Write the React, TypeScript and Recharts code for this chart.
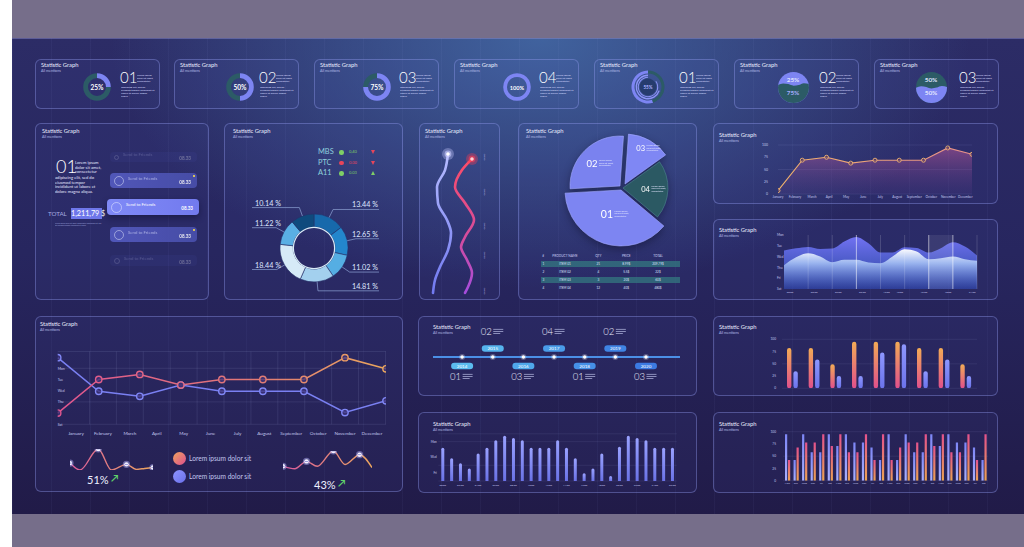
import React from 'react'
import {
  PieChart, Pie, Cell, AreaChart, Area, LineChart, Line, BarChart, Bar,
  XAxis, YAxis, CartesianGrid, ReferenceLine, ReferenceArea,
} from 'recharts'

const FONT = 'Lato, "Open Sans", "DejaVu Sans", sans-serif'
const PERI = '#7d85f3'
const TEAL = '#2c5b66'
const INK = '#eceeff'
const DIM = '#b9bde6'
const AXIS = '#c4c8ee'
const RAD = Math.PI / 180
const LOREM = 'Lorem ipsum dolor sit amet, consectetur adipiscing elit, sed do eiusmod tempor incididunt ut labore et dolore magna aliqua.'

// ---------- top cards ----------
const cardNumbers = ['01', '02', '03', '04', '01', '02', '03']
const cardShares = [25, 50, 75, 100]
const ringShares = [55, 70, 85]
const discWave6 = [58, 63, 61, 56, 58, 64, 61]
const discWave7 = [49, 54, 52, 47, 50, 55, 52]

// ---------- panel A ----------
const sendLabels = ['Send to Friends', 'Send to Friends', 'Send to Friends', 'Send to Friends', 'Send to Friends']
const sendAmounts = ['08.33', '08.33', '08.33', '08.33', '08.33']
const totalAmount = '1,211,79 $'

// ---------- panel B ----------
const tickers = ['MBS', 'PTC', 'A11']
const tickerValues = ['0,40', '0.00', '0.03']
const tickerUp = [false, false, true]
const donutLabels = ['13.44 %', '12.65 %', '11.02 %', '14.81 %', '18.44 %', '11.22 %', '10.14 %']
const donutValues = [13.44, 12.65, 11.02, 14.81, 18.44, 11.22, 10.14]
const donutColors = ['#1769ab', '#2386cc', '#55aee3', '#a3d0ee', '#d6eaf7', '#5aafe4', '#0f4a7d']

// ---------- panel C ----------
const blueY = [17.5, 26.6, 36.2, 45.2, 54.8, 62.1, 71.8, 81.4, 88.7, 96.0]
const blueX = [42.0, 37.7, 26.1, 27.5, 40.6, 46.4, 42.0, 30.4, 23.2, 20.3]
const redY = [20.3, 26.6, 36.2, 45.2, 54.8, 64.4, 70.1, 77.4, 84.7, 92.7, 96.0]
const redX = [76.8, 62.3, 52.2, 66.7, 79.7, 66.7, 60.9, 69.6, 76.8, 71.0, 66.7]
const curveTicks = [19.2, 28.2, 39.0, 48.0, 58.2, 64.4, 74.6, 84.7, 95.5]

// ---------- panel D ----------
const pieIds = ['03', '04', '01', '02']
const pieValues = [14, 21, 38, 27]
const tableHead = ['#', 'PRODUCT NAME', 'QTY', 'PRICE', 'TOTAL']
const tableRows = [
  ['1', 'ITEM 01', '21', '8.99$', '209.79$'],
  ['2', 'ITEM 02', '4', '5.5$', '22$'],
  ['3', 'ITEM 03', '3', '20$', '60$'],
  ['4', 'ITEM 04', '12', '40$', '480$'],
]

// ---------- panel E ----------
const months = ['January', 'February', 'March', 'April', 'May', 'June', 'July', 'August', 'September', 'October', 'November', 'December']
const monthTicks = [0, 1, 2, 3, 4, 5, 6, 7, 8, 9, 10, 11]
const trendValues = [7, 69, 75, 63, 69, 69, 69, 94, 81]

// ---------- panel F ----------
const weekDays = ['Sat', 'Fri', 'Thu', 'Wed', 'Tue', 'Mon']
const waveBack = [3.56, 3.77, 3.9, 3.71, 3.74, 4.39, 4.82, 4.23, 3.37, 3.37, 3.86, 3.8, 3.37, 3.77, 4.32, 3.93, 3.1]
const waveFront = [2.21, 2.94, 3.31, 3.01, 2.48, 2.7, 2.7, 2.45, 2.39, 3.01, 3.68, 3.47, 2.76, 2.85, 3.01, 2.76, 2.61]
const waveMarks = [2, 4, 6, 8, 10, 12, 14, 16]
const waveBright = [6, 12, 14]
const waveTimeTicks = [0.5, 2.5, 4.5, 6.5, 8.5, 9.6, 11.6, 13.6, 15.6]
const waveTimes = ['00:00', '03:00', '06:00', '09:00', '12:00', '13:00', '15:00', '18:00', '21:00']

// ---------- panel G ----------
const lineRose = [1, 4, 4.45, 3.5, 4, 4, 4, 5.95, 4.95]
const lineBlue = [5.95, 2.95, 2.5, 3.5, 2.95, 2.95, 2.95, 1.05, 2.1]
const gDayTicks = [0, 2, 3, 4, 5]
const gGridMarks = [0.5, 1.5, 2.5, 3.5, 4.5, 5.5, 6.5, 7.5, 8.5, 9.5, 10.5, 11.5]
const spark1T = [0, 30, 85, 125, 170, 200, 225, 250]
const spark1V = [22, 0, 67, 0, 18, 2, 5, 8]
const spark1Dots = [0, 2, 4, 7]
const spark2T = [0, 35, 70, 102, 150, 185, 228, 265]
const spark2V = [12, 4, 28, 12, 62, 18, 50, 8]
const spark2Dots = [0, 2, 4, 6]
const legendText = ['Lorem ipsum dolor sit', 'Lorem ipsum dolor sit']

// ---------- panel H ----------
const years = [2014, 2015, 2016, 2017, 2018, 2019, 2020]
const yearNumbers = ['01', '02', '03', '04', '01', '02', '03']
const yearColors = ['#5bbcef', '#56b4ee', '#4fa8eb', '#4a9ce9', '#4590e7', '#3f84e4', '#3b7ae2']

// ---------- panel I ----------
const slotLabels = ['00:00', '01:00', '02:00', '03:00', '04:00', '05:00', '06:00', '07:00', '08:00', '09:00', '10:00', '11:00', '12:00', '13:00',
  '14:00', '15:00', '16:00', '17:00', '18:00', '19:00', '20:00', '21:00', '22:00', '23:00', '24:00', '01:00', '02:00']
const slotValues = [4.24, 2.88, 2.25, 1.6, 3.5, 4.24, 5.17, 5.76, 5.47, 5.17, 4.24, 4.24, 4.24, 5.17,
  4.24, 2.88, 0.97, 1.6, 3.5, 0.64, 4.36, 5.76, 5.47, 5.17, 4.24, 4.24, 4.24]

// ---------- panel J ----------
const pairOrange = [82, 82, 49, 95, 95, 95, 82, 82, 49]
const pairBlue = [35, 59, 25, 25, 73, 90, 35, 59, 25]
const pctTicks = [0, 25, 50, 75, 100]

// ---------- panel K ----------
const dayLabels = ['Mon', 'Tue', 'Wed', 'Thu', 'Fri', 'Sat', 'Mon', 'Tue', 'Wed', 'Thu', 'Fri', 'Sat',
  'Mon', 'Tue', 'Wed', 'Thu', 'Fri', 'Sat', 'Mon', 'Tue', 'Wed', 'Thu', 'Fri', 'Sat']
const dayBlue = [95, 42, 95, 58, 58, 95, 71, 95, 78, 78, 68, 42, 95, 42, 95, 58, 58, 95, 71, 95, 78, 78, 68, 42]
const dayRose = [42, 68, 78, 78, 95, 71, 95, 58, 58, 95, 42, 95, 42, 68, 78, 78, 95, 71, 95, 58, 58, 95, 42, 95]

const tickStyle = (size: number) => ({ fill: AXIS, fontSize: size, fontFamily: FONT })

function Panel({ x, y, w, h, tx = 6, ty = 6, children }: any) {
  return (
    <div style={{
      position: 'absolute', left: x, top: y, width: w, height: h, boxSizing: 'border-box',
      border: '1px solid rgba(150,160,245,0.38)', borderRadius: 6, background: 'rgba(90,105,210,0.08)',
    }}>
      <div style={{ position: 'absolute', left: -1, top: -1, width: w, height: h }}>
        {children}
        <div style={{ position: 'absolute', left: tx, top: ty - 1, fontSize: 5.8, color: INK, lineHeight: 1, whiteSpace: 'nowrap' }}>Statistic Graph</div>
        <div style={{ position: 'absolute', left: tx, top: ty + 6, fontSize: 3.6, color: DIM, lineHeight: 1, whiteSpace: 'nowrap' }}>All mentions</div>
      </div>
    </div>
  )
}

function Tiny({ left, top, width, height, text, size = 2.6, line = 3.1, color = '#d8dcff' }: any) {
  return (
    <div style={{ position: 'absolute', left, top, width, height, fontSize: size, lineHeight: `${line}px`, color, overflow: 'hidden' }}>{text}</div>
  )
}

function CardText({ index }: { index: number }) {
  return (
    <>
      <div style={{ position: 'absolute', left: 85, top: 11, fontSize: 15, fontWeight: 300, color: '#fff', lineHeight: 1 }}>{cardNumbers[index]}</div>
      <Tiny left={102} top={14.5} width={19} height={9.3} text="Lorem ipsum dolor sit amet, consectetur" />
      <Tiny left={86} top={26.5} width={34} height={15.5} text={LOREM.slice(40)} />
    </>
  )
}

function CenterLabel({ text, size = 7, color = '#fff' }: any) {
  return (
    <div style={{ position: 'absolute', left: 0, top: 0, width: '100%', height: '100%', display: 'flex', alignItems: 'center', justifyContent: 'center', fontSize: size, fontWeight: 700, color }}>{text}</div>
  )
}

function RingCard({ x, index, cx }: any) {
  const share = cardShares[index]
  const data = [{ v: share }, { v: 100 - share }]
  return (
    <Panel x={x} y={59} w={125} h={50} ty={4}>
      <div style={{ position: 'absolute', left: cx - 16, top: 12, width: 32, height: 32 }}>
        <PieChart width={32} height={32} margin={{ top: 0, right: 0, bottom: 0, left: 0 }}>
          <Pie data={data} dataKey="v" cx={16} cy={16} innerRadius={share === 100 ? 10 : 9} outerRadius={13.8} startAngle={90} endAngle={-270} stroke="none" isAnimationActive={false}>
            <Cell fill={PERI} />
            <Cell fill={TEAL} />
          </Pie>
        </PieChart>
        <CenterLabel text={`${share}%`} size={share === 100 ? 5.6 : 6.6} />
      </div>
      <CardText index={index} />
    </Panel>
  )
}

function MultiRingCard({ x }: any) {
  const radii = [[13.5, 16.5], [11, 12.4], [9.2, 10.2]]
  return (
    <Panel x={x} y={59} w={125} h={50} ty={4}>
      <div style={{ position: 'absolute', left: 54 - 18, top: 10, width: 36, height: 36 }}>
        <PieChart width={36} height={36} margin={{ top: 0, right: 0, bottom: 0, left: 0 }}>
          {ringShares.map((s, i) => (
            <Pie key={i} data={[{ v: s }, { v: 100 - s }]} dataKey="v" cx={18} cy={18} innerRadius={radii[i][0]} outerRadius={radii[i][1]} startAngle={90} endAngle={450} stroke="none" isAnimationActive={false}>
              <Cell fill={i === 0 ? PERI : '#8c93f6'} />
              <Cell fill={i === 0 ? TEAL : 'rgba(0,0,0,0)'} />
            </Pie>
          ))}
          <Pie data={[{ v: 1 }]} dataKey="v" cx={18} cy={18} innerRadius={0} outerRadius={8.4} fill="#263c6e" stroke="none" isAnimationActive={false} />
        </PieChart>
        <CenterLabel text="55%" size={4.6} color="#a9b0ff" />
      </div>
      <CardText index={4} />
    </Panel>
  )
}

function DiscCard({ x, index, cx, wave, topColor, bottomColor, topText, bottomText }: any) {
  const data = wave.map((v: number, i: number) => ({ i, v }))
  return (
    <Panel x={x} y={59} w={125} h={50} ty={4}>
      <div style={{ position: 'absolute', left: cx - 15.5, top: 12.5, width: 31, height: 31, borderRadius: '50%', overflow: 'hidden', background: topColor }}>
        <AreaChart width={31} height={31} data={data} margin={{ top: 0, right: 0, bottom: 0, left: 0 }}>
          <XAxis dataKey="i" type="number" domain={[0, wave.length - 1]} hide />
          <YAxis domain={[0, 100]} allowDataOverflow hide />
          <Area dataKey="v" type="monotone" stroke="none" fill={bottomColor} fillOpacity={1} isAnimationActive={false} />
        </AreaChart>
        <div style={{ position: 'absolute', left: 0, top: 5, width: '100%', textAlign: 'center', fontSize: 6.4, fontWeight: 700, color: '#dfe3ff', lineHeight: 1 }}>{topText.t}</div>
        <div style={{ position: 'absolute', left: 0, top: 18, width: '100%', textAlign: 'center', fontSize: 6.4, fontWeight: 700, color: bottomText.c, lineHeight: 1 }}>{bottomText.t}</div>
      </div>
      <CardText index={index} />
    </Panel>
  )
}

function SendPanel() {
  const pills = [
    { top: 29, h: 10, left: 75, w: 87, bg: 'rgba(85,92,200,0.28)', a: 0.3 },
    { top: 50, h: 15, left: 75, w: 87, bg: 'linear-gradient(90deg,#555cc2,#4a50ad)', a: 0.9 },
    { top: 76, h: 16, left: 72, w: 92, bg: 'linear-gradient(90deg,#808af7,#727aee)', a: 1 },
    { top: 104, h: 15, left: 75, w: 87, bg: 'linear-gradient(90deg,#555cc2,#4a50ad)', a: 0.9 },
    { top: 132, h: 11, left: 75, w: 87, bg: 'rgba(85,92,200,0.28)', a: 0.3 },
  ]
  return (
    <Panel x={35} y={123} w={174} h={177} tx={7} ty={6}>
      <div style={{ position: 'absolute', left: 21, top: 36, fontSize: 18, fontWeight: 300, color: '#fff', lineHeight: '15px', height: 15 }}>01</div>
      <Tiny left={40} top={38} width={28} height={14} size={4.2} line={4.6} color="#e4e7ff" text="Lorem ipsum dolor sit amet, consectetur" />
      <Tiny left={20} top={53} width={49} height={19} size={4.2} line={4.6} color="#e4e7ff" text="adipiscing elit, sed do eiusmod tempor incididunt ut labore et dolore magna aliqua." />
      <div style={{ position: 'absolute', left: 13, top: 87.5, fontSize: 6.2, color: '#a7aee0', lineHeight: 1 }}>TOTAL</div>
      <div style={{ position: 'absolute', left: 36, top: 85, width: 31, height: 11, background: '#6e77ea', color: '#fff', fontSize: 7.2, lineHeight: '11px', textAlign: 'center', whiteSpace: 'nowrap' }}>{totalAmount}</div>
      <Tiny left={20} top={99} width={48} size={1.8} line={2.1} color="#9aa0d8" text="Lorem ipsum dolor sit amet, consectetur adipiscing elit, sed do eiusmod tempor incididunt ut labore" />
      {pills.map((p, i) => (
        <div key={i} style={{
          position: 'absolute', left: p.left, top: p.top, width: p.w, height: p.h, borderRadius: 4, background: p.bg, opacity: p.a,
          boxShadow: i === 2 ? '0 3px 6px rgba(10,10,40,0.45)' : 'none',
        }}>
          <div style={{ position: 'absolute', left: 4, top: 2.5, width: p.h - 5, height: p.h - 5, borderRadius: '50%', border: '0.8px solid rgba(220,225,255,0.6)', boxSizing: 'border-box' }} />
          <div style={{ position: 'absolute', left: p.h + 3, top: p.h / 2 - 4, fontSize: 4.3, color: i === 2 ? '#fff' : '#b8bdf0', lineHeight: 1 }}>{sendLabels[i]}</div>
          <div style={{ position: 'absolute', right: 6, top: p.h / 2 - 1, fontSize: 4.6, fontWeight: 700, color: '#fff', lineHeight: 1 }}>{sendAmounts[i]}</div>
          {(i === 1 || i === 3) && <div style={{ position: 'absolute', right: 2.5, top: 2, width: 2, height: 2, background: '#e6cf5a' }} />}
        </div>
      ))}
    </Panel>
  )
}

function donutLabel(p: any) {
  const { cx, cy, midAngle, outerRadius, index } = p
  const c = Math.cos(-midAngle * RAD)
  const s = Math.sin(-midAngle * RAD)
  const sx = cx + outerRadius * c
  const sy = cy + outerRadius * s
  const ex = cx + (outerRadius + 9) * c
  const ey = cy + (outerRadius + 9) * s
  const right = c >= 0
  const lx = right ? cx + 65 : cx - 62
  return (
    <g key={`dl${index}`}>
      <polyline points={`${sx},${sy} ${ex},${ey} ${lx},${ey}`} fill="none" stroke="#8ea3d6" strokeWidth={0.7} />
      <text x={right ? cx + 64 : cx - 59} y={ey - 2} textAnchor={right ? 'end' : 'start'} fill="#dfe6ff" fontSize={7.2} fontFamily={FONT}>{donutLabels[index]}</text>
    </g>
  )
}

function DonutPanel() {
  const data = donutValues.map((v, i) => ({ name: donutLabels[i], v }))
  return (
    <Panel x={224} y={123} w={179} h={177} tx={9} ty={6}>
      {tickers.map((t, i) => (
        <div key={t} style={{ position: 'absolute', left: 94, top: 25 + i * 10.5, height: 8, width: 70 }}>
          <div style={{ position: 'absolute', left: 0, top: 0, fontSize: 7.4, color: '#8fd0dc', lineHeight: 1 }}>{t}</div>
          <div style={{ position: 'absolute', left: 21, top: 2, width: 4.6, height: 4.6, borderRadius: '50%', background: i === 1 ? '#e8455a' : '#7fcf66' }} />
          <div style={{ position: 'absolute', left: 31, top: 2.4, fontSize: 4, color: i === 1 ? '#e8455a' : '#7fcf66', lineHeight: 1 }}>{tickerValues[i]}</div>
          <div style={{
            position: 'absolute', left: 53, top: 2, width: 0, height: 0,
            borderLeft: '2.6px solid transparent', borderRight: '2.6px solid transparent',
            ...(tickerUp[i] ? { borderBottom: '4.4px solid #7fcf66' } : { borderTop: '4.4px solid #e8455a' }),
          }} />
        </div>
      ))}
      <div style={{ position: 'absolute', left: 0, top: 0 }}>
        <PieChart width={179} height={177} margin={{ top: 0, right: 0, bottom: 0, left: 0 }}>
          <Pie data={data} dataKey="v" cx={90} cy={125} innerRadius={21} outerRadius={34} startAngle={90} endAngle={-270}
            stroke="#27306a" strokeWidth={0.6} label={donutLabel} labelLine={false} isAnimationActive={false}>
            {data.map((_, i) => <Cell key={i} fill={donutColors[i]} />)}
          </Pie>
          <Pie data={[{ v: 1 }]} dataKey="v" cx={90} cy={125} innerRadius={20} outerRadius={21.2} fill="#d9ecf8" stroke="none" isAnimationActive={false} />
        </PieChart>
      </div>
    </Panel>
  )
}

function glowDot(color: string, glow: string) {
  return (p: any) => {
    if (p.index !== 0) return <g key={`d${p.index}`} />
    return (
      <g key={`d${p.index}`}>
        <circle cx={p.cx} cy={p.cy} r={6} fill={glow} opacity={0.35} />
        <circle cx={p.cx} cy={p.cy} r={3.4} fill={glow} opacity={0.6} />
        <circle cx={p.cx} cy={p.cy} r={1.8} fill={color} />
      </g>
    )
  }
}

function CurvePanel() {
  const blue = blueY.map((y, i) => ({ y, x: blueX[i] }))
  const red = redY.map((y, i) => ({ y, x: redX[i] }))
  return (
    <Panel x={419} y={123} w={81} h={177} tx={6} ty={6}>
      <div style={{ position: 'absolute', left: 0, top: 0 }}>
        <LineChart layout="vertical" width={81} height={177} margin={{ top: 0, right: 0, bottom: 0, left: 0 }}>
          <defs>
            <linearGradient id="redCurve" x1="0" y1="30" x2="0" y2="172" gradientUnits="userSpaceOnUse">
              <stop offset="0" stopColor="#ff4d64" />
              <stop offset="0.6" stopColor="#d44c9e" />
              <stop offset="1" stopColor="#a44de0" />
            </linearGradient>
            <linearGradient id="blueCurve" x1="0" y1="30" x2="0" y2="172" gradientUnits="userSpaceOnUse">
              <stop offset="0" stopColor="#b6bcff" />
              <stop offset="1" stopColor="#7078f0" />
            </linearGradient>
          </defs>
          <XAxis type="number" dataKey="x" domain={[0, 100]} allowDataOverflow hide />
          <YAxis type="number" dataKey="y" domain={[0, 100]} allowDataOverflow hide />
          <YAxis yAxisId="r" type="number" dataKey="y" orientation="right" width={12} domain={[0, 100]} allowDataOverflow
            ticks={curveTicks} axisLine={false} tickLine={false} tickSize={0} tickMargin={0}
            tick={(p: any) => (
              <text key={`t${p.index}`} x={p.x - 3} y={p.y} transform={`rotate(-90 ${p.x - 3} ${p.y})`} textAnchor="middle" fontSize={2.6} fill={AXIS} fontFamily={FONT}>00:00</text>
            )} />
          <Line data={blue} dataKey="x" type="monotone" stroke="url(#blueCurve)" strokeWidth={2.6} strokeLinecap="round" dot={glowDot('#ffffff', '#c9ccff')} activeDot={false} isAnimationActive={false} />
          <Line data={red} dataKey="x" type="monotone" stroke="url(#redCurve)" strokeWidth={2.6} strokeLinecap="round" dot={glowDot('#ffd0d6', '#ff3b52')} activeDot={false} isAnimationActive={false} />
        </LineChart>
      </div>
    </Panel>
  )
}

const pieStyle: Record<string, any> = {
  '01': { dx: -1, dy: 3, r: 56, fill: '#7d85f2', edge: '#a3a9ff', lr: 0.45, fs: 10.5 },
  '02': { dx: -2, dy: -1, r: 50, fill: '#7a82ef', edge: '#a3a9ff', lr: 0.64, fs: 9.5 },
  '03': { dx: 3, dy: -3, r: 50, fill: '#7f87f4', edge: '#a3a9ff', lr: 0.82, fs: 7.5 },
  '04': { dx: 1, dy: 1, r: 45, fill: '#2b5963', edge: '#4d8790', lr: 0.6, fs: 7.5 },
}

function PiePanel() {
  const total = pieValues.reduce((a, b) => a + b, 0)
  let acc = 0
  const slices = pieIds.map((id, i) => {
    const start = 86 - (acc / total) * 360
    acc += pieValues[i]
    const end = 86 - (acc / total) * 360
    return { id, value: pieValues[i], start, end }
  })
  const colX = [25.3, 47, 80.3, 108.3, 140]
  return (
    <Panel x={518} y={123} w={179} h={177} tx={8} ty={6}>
      <div style={{ position: 'absolute', left: 0, top: 0, filter: 'drop-shadow(0px 3px 4px rgba(10,10,40,0.45))' }}>
        <PieChart width={179} height={135} margin={{ top: 0, right: 0, bottom: 0, left: 0 }}>
          {slices.map((s) => {
            const st = pieStyle[s.id]
            return (
              <Pie key={s.id} data={[s]} dataKey="value" cx={104 + st.dx} cy={64 + st.dy} startAngle={s.start} endAngle={s.end}
                innerRadius={0} outerRadius={st.r} fill={st.fill} stroke={st.edge} strokeWidth={0.6} labelLine={false} isAnimationActive={false}
                label={(p: any) => {
                  const lx = p.cx + p.outerRadius * st.lr * Math.cos(-p.midAngle * RAD)
                  const ly = p.cy + p.outerRadius * st.lr * Math.sin(-p.midAngle * RAD)
                  return (
                    <g key={`pl${s.id}`}>
                      <text x={lx} y={ly + st.fs * 0.36} textAnchor="end" fill="#fff" fontSize={st.fs} fontFamily={FONT}>{s.id}</text>
                      {[0, 1, 2].map((k) => (
                        <text key={k} x={lx + 1.5} y={ly - 2.4 + k * 2.8} fontSize={2.3} fill="#e2e5ff" fontFamily={FONT}>{k === 0 ? 'Lorem ipsum' : k === 1 ? 'dolor sit amet,' : 'consectetur'}</text>
                      ))}
                    </g>
                  )
                }} />
            )
          })}
        </PieChart>
      </div>
      {[0, 2].map((r) => (
        <div key={r} style={{ position: 'absolute', left: 23, top: 141 + r * 8 - 3.3, width: 139, height: 6.7, background: 'rgba(52,120,128,0.75)' }} />
      ))}
      {tableHead.map((h, c) => (
        <div key={h} style={{ position: 'absolute', left: colX[c] - 20, top: 132, width: 40, textAlign: 'center', fontSize: 3.2, color: '#c9cdf2', lineHeight: 1 }}>{h}</div>
      ))}
      {tableRows.map((row, r) => row.map((cell, c) => (
        <div key={`${r}-${c}`} style={{ position: 'absolute', left: colX[c] - 20, top: 139.5 + r * 8, width: 40, textAlign: 'center', fontSize: 3.1, color: '#dfe2ff', lineHeight: 1 }}>{cell}</div>
      )))}
    </Panel>
  )
}

function TrendPanel() {
  const data = trendValues.map((v, i) => ({ i, v }))
  return (
    <Panel x={713} y={123} w={285} h={81} tx={6} ty={10}>
      <div style={{ position: 'absolute', left: 0, top: 0 }}>
        <AreaChart width={285} height={81} data={data} margin={{ top: 22, right: 26, bottom: 2, left: 49 }}>
          <defs>
            <linearGradient id="trendFill" x1="0" y1="0" x2="0" y2="1">
              <stop offset="0" stopColor="#c45b9c" stopOpacity={0.85} />
              <stop offset="1" stopColor="#5a3c8c" stopOpacity={0.25} />
            </linearGradient>
            <linearGradient id="trendLine" x1="65" y1="0" x2="260" y2="0" gradientUnits="userSpaceOnUse">
              <stop offset="0" stopColor="#f0b26a" />
              <stop offset="1" stopColor="#e8908a" />
            </linearGradient>
          </defs>
          <CartesianGrid vertical={false} stroke="rgba(200,205,255,0.16)" strokeWidth={0.6} />
          <XAxis dataKey="i" type="number" domain={[0, 11.39]} allowDataOverflow ticks={monthTicks} interval={0}
            tickFormatter={(v: number) => months[v]} tick={tickStyle(3.2)} axisLine={false} tickLine={false} tickSize={0} tickMargin={1.5} height={8} />
          <XAxis xAxisId="pt" dataKey="i" type="number" domain={[0, 8]} allowDataOverflow hide />
          <YAxis domain={[0, 100]} allowDataOverflow ticks={pctTicks} width={16} tick={tickStyle(3.4)} axisLine={false} tickLine={false} tickSize={0} tickMargin={10} />
          <Area xAxisId="pt" dataKey="v" type="linear" stroke="url(#trendLine)" strokeWidth={1.1} fill="url(#trendFill)" isAnimationActive={false}
            dot={{ r: 2, stroke: '#f2b574', strokeWidth: 0.9, fill: '#4d2d62' }} activeDot={false} />
        </AreaChart>
      </div>
    </Panel>
  )
}

function WavePanel() {
  const data = waveBack.map((b, i) => ({ i, back: b, front: waveFront[i] }))
  return (
    <Panel x={713} y={219} w={285} h={81} tx={6} ty={9}>
      <div style={{ position: 'absolute', left: 0, top: 0 }}>
        <AreaChart width={285} height={81} data={data} margin={{ top: 16, right: 21, bottom: 3, left: 59 }}>
          <defs>
            <linearGradient id="waveBack" x1="0" y1="0" x2="0" y2="1">
              <stop offset="0" stopColor="#7272f2" stopOpacity={1} />
              <stop offset="0.5" stopColor="#5366de" stopOpacity={0.8} />
              <stop offset="1" stopColor="#2b3aa0" stopOpacity={0.4} />
            </linearGradient>
            <linearGradient id="waveFront" x1="0" y1="0" x2="0" y2="1">
              <stop offset="0" stopColor="#ffffff" stopOpacity={0.97} />
              <stop offset="0.35" stopColor="#a8c4f6" stopOpacity={0.85} />
              <stop offset="1" stopColor="#3556c8" stopOpacity={0.35} />
            </linearGradient>
          </defs>
          <XAxis dataKey="i" type="number" domain={[0, 16]} allowDataOverflow ticks={waveTimeTicks} interval={0}
            tickFormatter={(v: number) => waveTimes[waveTimeTicks.indexOf(v)]} tick={tickStyle(2.6)} axisLine={false} tickLine={false} tickSize={0} tickMargin={2.5} height={8} />
          <YAxis domain={[0, 5]} allowDataOverflow ticks={[0, 1, 2, 3, 4, 5]} tickFormatter={(v: number) => weekDays[v]} width={12}
            tick={{ ...tickStyle(3.2), textAnchor: 'start' }} axisLine={false} tickLine={false} tickSize={0} tickMargin={7} />
          <Area dataKey="back" type="monotone" stroke="none" fill="url(#waveBack)" fillOpacity={1} isAnimationActive={false} />
          <Area dataKey="front" type="monotone" stroke="none" fill="url(#waveFront)" fillOpacity={1} isAnimationActive={false} />
          <ReferenceArea x1={12} x2={14} y1={0} y2={5} fill="#ffffff" fillOpacity={0.08} stroke="none" />
          {waveMarks.map((m) => (
            <ReferenceLine key={m} x={m} stroke="#ffffff" strokeOpacity={waveBright.includes(m) ? 0.55 : 0.22} strokeWidth={waveBright.includes(m) ? 1 : 0.7} />
          ))}
        </AreaChart>
      </div>
    </Panel>
  )
}

function ringDot(stroke: string) {
  return (p: any) => (
    <circle key={`rd${p.index}`} cx={p.cx} cy={p.cy} r={3.2} stroke={stroke} strokeWidth={1.4} fill="rgba(60,50,120,0.75)" />
  )
}

function sparkDot(marks: number[]) {
  return (p: any) => {
    if (!marks.includes(p.index)) return <g key={`s${p.index}`} />
    return (
      <g key={`s${p.index}`}>
        <circle cx={p.cx} cy={p.cy} r={3.6} fill="#b8b4ff" opacity={0.45} />
        <circle cx={p.cx} cy={p.cy} r={2.2} fill="#f4f3ff" />
        <rect x={p.cx - 1.6} y={p.cy - 0.4} width={3.2} height={0.8} fill="#8a86d8" />
      </g>
    )
  }
}

function Spark({ left, top, w, h, t, v, marks, maxT, maxV, id }: any) {
  const data = t.map((x: number, i: number) => ({ x, v: v[i] }))
  return (
    <div style={{ position: 'absolute', left, top }}>
      <LineChart width={w} height={h} data={data} margin={{ top: 4, right: 4, bottom: 4, left: 4 }}>
        <defs>
          <linearGradient id={id} x1="4" y1="0" x2={w - 4} y2="0" gradientUnits="userSpaceOnUse">
            <stop offset="0" stopColor="#d85a9c" />
            <stop offset="1" stopColor="#eca65e" />
          </linearGradient>
        </defs>
        <XAxis dataKey="x" type="number" domain={[0, maxT]} allowDataOverflow hide />
        <YAxis domain={[0, maxV]} allowDataOverflow hide />
        <Line dataKey="v" type="monotone" stroke={`url(#${id})`} strokeWidth={1.4} dot={sparkDot(marks)} activeDot={false} isAnimationActive={false} />
      </LineChart>
    </div>
  )
}

function MonthLinePanel() {
  const data = lineRose.map((v, i) => ({ i, rose: v, blue: lineBlue[i] }))
  return (
    <Panel x={35} y={316} w={368} h={176} tx={5} ty={6}>
      <div style={{ position: 'absolute', left: 0, top: 0 }}>
        <LineChart width={368} height={176} data={data} margin={{ top: 35.5, right: 17, bottom: 55.7, left: 22.7 }}>
          <defs>
            <linearGradient id="roseLine" x1="22" y1="0" x2="352" y2="0" gradientUnits="userSpaceOnUse">
              <stop offset="0" stopColor="#e0558f" />
              <stop offset="0.6" stopColor="#e27a76" />
              <stop offset="1" stopColor="#e9a75c" />
            </linearGradient>
          </defs>
          <CartesianGrid verticalValues={gGridMarks} stroke="rgba(200,205,255,0.13)" strokeWidth={0.8} />
          <XAxis dataKey="i" type="number" domain={[-0.68, 11.52]} allowDataOverflow ticks={monthTicks} interval={0}
            tickFormatter={(v: number) => months[v]} tick={tickStyle(4.6)} axisLine={false} tickLine={false} tickSize={0} tickMargin={7} height={12} />
          <XAxis xAxisId="pt" dataKey="i" type="number" domain={[0, 8]} allowDataOverflow hide />
          <YAxis domain={[0, 6.5]} allowDataOverflow ticks={gDayTicks} tickFormatter={(v: number) => weekDays[v]} mirror
            tick={tickStyle(3.4)} axisLine={false} tickLine={false} tickSize={0} tickMargin={0} />
          <Line xAxisId="pt" dataKey="blue" type="linear" stroke="#7a80f2" strokeWidth={1.5} dot={ringDot('#8087f5')} activeDot={false} isAnimationActive={false} />
          <Line xAxisId="pt" dataKey="rose" type="linear" stroke="url(#roseLine)" strokeWidth={1.5} dot={ringDot('url(#roseLine)')} activeDot={false} isAnimationActive={false} />
        </LineChart>
      </div>
      <Spark left={31} top={129} w={91} h={29} t={spark1T} v={spark1V} marks={spark1Dots} maxT={250} maxV={67} id="spk1" />
      <Spark left={244} top={131} w={97} h={27} t={spark2T} v={spark2V} marks={spark2Dots} maxT={265} maxV={62} id="spk2" />
      {legendText.map((txt, i) => (
        <div key={i} style={{ position: 'absolute', left: 137.5, top: 135.5 + i * 18.5, width: 13, height: 13, borderRadius: '50%', background: i === 0 ? 'linear-gradient(135deg,#f0a45e,#dc4f8f)' : 'linear-gradient(135deg,#8f95ff,#6a70ea)' }} />
      ))}
      {legendText.map((txt, i) => (
        <div key={`t${i}`} style={{ position: 'absolute', left: 154, top: 138.5 + i * 18.5, fontSize: 6.6, color: '#c2c6ee', lineHeight: 1, whiteSpace: 'nowrap' }}>{txt}</div>
      ))}
      <div style={{ position: 'absolute', left: 52, top: 158, fontSize: 11, color: '#eef0ff', lineHeight: 1 }}>51%</div>
      <div style={{ position: 'absolute', left: 76, top: 157, fontSize: 10, color: '#5fd36a', fontWeight: 700, lineHeight: 1 }}>↗</div>
      <div style={{ position: 'absolute', left: 279, top: 163, fontSize: 11, color: '#eef0ff', lineHeight: 1 }}>43%</div>
      <div style={{ position: 'absolute', left: 303, top: 162, fontSize: 10, color: '#5fd36a', fontWeight: 700, lineHeight: 1 }}>↗</div>
    </Panel>
  )
}

function timelineLabel(p: any) {
  const { x, y, index } = p
  const above = index % 2 === 1
  const py = above ? y - 8.5 : y + 9
  const ny = above ? y - 25.5 : y + 19.5
  return (
    <g key={`tl${index}`}>
      <rect x={x - 11} y={py - 3.2} width={22} height={6.4} rx={3.2} fill={yearColors[index]} />
      <text x={x} y={py + 1.6} textAnchor="middle" fontSize={4.6} fill="#ffffff" fontFamily={FONT}>{years[index]}</text>
      <text x={x - 1} y={ny + 3.4} textAnchor="end" fontSize={9.5} fill="#eef0ff" fontFamily={FONT} fontWeight={300}>{yearNumbers[index]}</text>
      {[0, 1, 2].map((k) => (
        <rect key={k} x={x + 0.5} y={ny - 2.6 + k * 2.1} width={k === 2 ? 7 : 10} height={0.9} fill="#c8ccf2" opacity={0.7} />
      ))}
    </g>
  )
}

function TimelinePanel() {
  const data = years.map((yr) => ({ yr, lane: 0 }))
  return (
    <Panel x={418} y={316} w={279} h={80} tx={15} ty={9}>
      <div style={{ position: 'absolute', left: 0, top: 0 }}>
        <LineChart width={279} height={80} data={data} margin={{ top: 2, right: 17, bottom: 0, left: 15 }}>
          <XAxis dataKey="yr" type="number" domain={[2013.05, 2021.11]} allowDataOverflow hide />
          <YAxis domain={[-1, 1]} allowDataOverflow hide />
          <ReferenceLine y={0} stroke="#4b8fe6" strokeWidth={2} />
          <Line dataKey="lane" stroke="none" isAnimationActive={false} activeDot={false} label={timelineLabel}
            dot={(p: any) => (
              <g key={`td${p.index}`}>
                <circle cx={p.cx} cy={p.cy} r={3} fill="#ffffff" opacity={0.25} />
                <circle cx={p.cx} cy={p.cy} r={1.7} fill="#ffffff" />
              </g>
            )} />
        </LineChart>
      </div>
    </Panel>
  )
}

function SlotBarPanel() {
  const data = slotValues.map((v, i) => ({ slot: slotLabels[i], v }))
  return (
    <Panel x={418} y={412} w={279} h={81} tx={15} ty={10}>
      <div style={{ position: 'absolute', left: 0, top: 0 }}>
        <BarChart width={279} height={81} data={data} margin={{ top: 21.8, right: 20.2, bottom: 3, left: 4.3 }} barCategoryGap={0}>
          <defs>
            <linearGradient id="slotFill" x1="0" y1="0" x2="0" y2="1">
              <stop offset="0" stopColor="#9aa2ff" />
              <stop offset="1" stopColor="#6a72e6" />
            </linearGradient>
          </defs>
          <CartesianGrid vertical={false} stroke="rgba(200,205,255,0.14)" strokeWidth={0.6} />
          <XAxis dataKey="slot" interval={1} tick={tickStyle(2.6)} axisLine={false} tickLine={false} tickSize={0} tickMargin={3.5} height={9} />
          <YAxis domain={[0, 6]} allowDataOverflow ticks={[0, 1, 2, 3, 4, 5]} tickFormatter={(v: number) => weekDays[v]} width={16}
            tick={tickStyle(3)} axisLine={false} tickLine={false} tickSize={0} tickMargin={1.5} />
          <Bar dataKey="v" barSize={3} fill="url(#slotFill)" radius={[1.5, 1.5, 0, 0]} isAnimationActive={false} />
        </BarChart>
      </div>
    </Panel>
  )
}

function PairBarPanel() {
  const data = pairOrange.map((o, i) => ({ g: i, o, b: pairBlue[i] }))
  return (
    <Panel x={713} y={316} w={285} h={80} tx={6} ty={9}>
      <div style={{ position: 'absolute', left: 0, top: 0 }}>
        <BarChart width={285} height={80} data={data} margin={{ top: 23.3, right: 21, bottom: 7.7, left: 57 }} barGap={2}>
          <defs>
            <linearGradient id="pairOrange" x1="0" y1="0" x2="0" y2="1">
              <stop offset="0" stopColor="#f3ab55" />
              <stop offset="1" stopColor="#e0508c" />
            </linearGradient>
            <linearGradient id="pairBlue" x1="0" y1="0" x2="0" y2="1">
              <stop offset="0" stopColor="#8e97ff" />
              <stop offset="1" stopColor="#6b73ea" />
            </linearGradient>
          </defs>
          <CartesianGrid vertical={false} stroke="rgba(200,205,255,0.14)" strokeWidth={0.6} />
          <XAxis dataKey="g" hide />
          <YAxis domain={[0, 100]} allowDataOverflow ticks={pctTicks} width={12} tick={tickStyle(3.2)} axisLine={false} tickLine={false} tickSize={0} tickMargin={6} />
          <Bar dataKey="o" barSize={4.4} fill="url(#pairOrange)" radius={2.2} isAnimationActive={false} />
          <Bar dataKey="b" barSize={4.4} fill="url(#pairBlue)" radius={2.2} isAnimationActive={false} />
        </BarChart>
      </div>
    </Panel>
  )
}

function DayBarPanel() {
  const data = dayBlue.map((b, i) => ({ d: i, b, r: dayRose[i] }))
  return (
    <Panel x={713} y={412} w={285} h={81} tx={6} ty={10}>
      <div style={{ position: 'absolute', left: 0, top: 0 }}>
        <BarChart width={285} height={81} data={data} margin={{ top: 19.7, right: 10, bottom: 4.3, left: 56 }} barGap={0.8}>
          <defs>
            <linearGradient id="dayRose" x1="0" y1="0" x2="0" y2="1">
              <stop offset="0" stopColor="#e4528c" />
              <stop offset="1" stopColor="#eca352" />
            </linearGradient>
            <linearGradient id="dayBlue" x1="0" y1="0" x2="0" y2="1">
              <stop offset="0" stopColor="#7d86f6" />
              <stop offset="1" stopColor="#a9b0ff" />
            </linearGradient>
          </defs>
          <CartesianGrid vertical={false} stroke="rgba(200,205,255,0.14)" strokeWidth={0.6} />
          <XAxis dataKey="d" interval={0} tickFormatter={(v: number) => dayLabels[v]} tick={tickStyle(2.5)} axisLine={false} tickLine={false} tickSize={0} tickMargin={1.5} height={8} />
          <YAxis domain={[0, 100]} allowDataOverflow ticks={pctTicks} width={14} tick={tickStyle(3.2)} axisLine={false} tickLine={false} tickSize={0} tickMargin={7} />
          <Bar dataKey="b" barSize={2.2} fill="url(#dayBlue)" isAnimationActive={false} />
          <Bar dataKey="r" barSize={2.2} fill="url(#dayRose)" isAnimationActive={false} />
        </BarChart>
      </div>
    </Panel>
  )
}

const BG = [
  'repeating-linear-gradient(90deg, rgba(170,180,255,0.045) 0px, rgba(170,180,255,0.045) 1px, transparent 1px, transparent 39px)',
  'radial-gradient(ellipse 430px 250px at 528px 0px, rgba(68,108,168,0.85) 0%, rgba(68,108,168,0) 100%)',
  'linear-gradient(180deg, #2c2c66 0%, #27265f 45%, #211b48 100%)',
].join(',')

export default function App() {
  return (
    <div style={{ position: 'absolute', left: 0, top: 0, width: 1024, height: 547, overflow: 'hidden', background: '#ffffff', fontFamily: FONT }}>
      <div style={{ position: 'absolute', left: 12, top: 0, width: 1012, height: 547, background: '#766e8a' }} />
      <div style={{ position: 'absolute', left: 12, top: 38, width: 1012, height: 476, background: BG }} />
      <div style={{ position: 'absolute', left: 12, top: 38, width: 1012, height: 1, background: 'rgba(140,140,200,0.5)' }} />

      <RingCard x={35} index={0} cx={62} />
      <RingCard x={174} index={1} cx={66} />
      <RingCard x={314} index={2} cx={63} />
      <RingCard x={454} index={3} cx={63} />
      <MultiRingCard x={594} />
      <DiscCard x={734} index={5} cx={59} wave={discWave6} topColor={PERI} bottomColor={TEAL}
        topText={{ t: '25%' }} bottomText={{ t: '75%', c: '#a6adff' }} />
      <DiscCard x={874} index={6} cx={57} wave={discWave7} topColor={TEAL} bottomColor={PERI}
        topText={{ t: '50%' }} bottomText={{ t: '50%', c: '#e4e7ff' }} />

      <SendPanel />
      <DonutPanel />
      <CurvePanel />
      <PiePanel />
      <TrendPanel />
      <WavePanel />

      <MonthLinePanel />
      <TimelinePanel />
      <SlotBarPanel />
      <PairBarPanel />
      <DayBarPanel />
    </div>
  )
}
